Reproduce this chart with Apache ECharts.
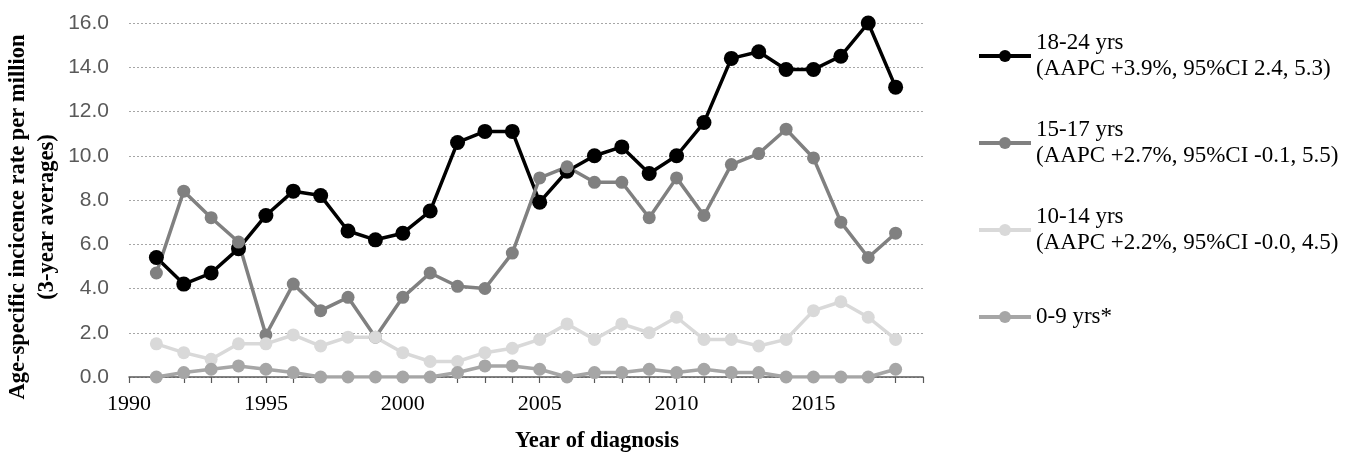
<!DOCTYPE html>
<html>
<head>
<meta charset="utf-8">
<script src="https://cdn.jsdelivr.net/npm/echarts@6/dist/echarts.min.js"></script>
<style>
  html, body { margin: 0; padding: 0; background: #fff; }
  #chart { width: 1353px; height: 455px; }
</style>
</head>
<body>
<div id="chart"></div>
<script>
// years of diagnosis (3-year averages)
var years = [1991, 1992, 1993, 1994, 1995, 1996, 1997, 1998, 1999, 2000,
             2001, 2002, 2003, 2004, 2005, 2006, 2007, 2008, 2009, 2010,
             2011, 2012, 2013, 2014, 2015, 2016, 2017, 2018];

var age18to24 = [5.4, 4.2, 4.7, 5.8, 7.3, 8.4, 8.2, 6.6, 6.2, 6.5,
                 7.5, 10.6, 11.1, 11.1, 7.9, 9.3, 10.0, 10.4, 9.2, 10.0,
                 11.5, 14.4, 14.7, 13.9, 13.9, 14.5, 16.0, 13.1];
var age15to17 = [4.7, 8.4, 7.2, 6.1, 1.9, 4.2, 3.0, 3.6, 1.8, 3.6,
                 4.7, 4.1, 4.0, 5.6, 9.0, 9.5, 8.8, 8.8, 7.2, 9.0,
                 7.3, 9.6, 10.1, 11.2, 9.9, 7.0, 5.4, 6.5];
var age10to14 = [1.5, 1.1, 0.8, 1.5, 1.5, 1.9, 1.4, 1.8, 1.8, 1.1,
                 0.7, 0.7, 1.1, 1.3, 1.7, 2.4, 1.7, 2.4, 2.0, 2.7,
                 1.7, 1.7, 1.4, 1.7, 3.0, 3.4, 2.7, 1.7];
var age0to9 = [0.0, 0.2, 0.35, 0.5, 0.35, 0.2, 0.0, 0.0, 0.0, 0.0,
               0.0, 0.2, 0.5, 0.5, 0.35, 0.0, 0.2, 0.2, 0.35, 0.2,
               0.35, 0.2, 0.2, 0.0, 0.0, 0.0, 0.0, 0.35];

var seriesNames = ['18-24 yrs', '15-17 yrs', '10-14 yrs', '0-9 yrs*'];
var seriesNotes = ['(AAPC +3.9%, 95%CI 2.4, 5.3)',
                   '(AAPC +2.7%, 95%CI -0.1, 5.5)',
                   '(AAPC +2.2%, 95%CI -0.0, 4.5)',
                   ''];
var seriesColors = ['#000000', '#808080', '#d9d9d9', '#a6a6a6'];
var yTicks = [0, 2, 4, 6, 8, 10, 12, 14, 16];

var serif = '"Liberation Serif", "Times New Roman", serif';
var sans = '"Liberation Sans", Arial, sans-serif';

function pairs(vals) {
    var out = [];
    for (var i = 0; i < years.length; i++) {
        out.push([years[i], vals[i]]);
    }
    return out;
}

var allData = [age18to24, age15to17, age10to14, age0to9];

var series = [];
for (var s = 0; s < seriesNames.length; s++) {
    series.push({
        name: seriesNames[s],
        type: 'line',
        data: pairs(allData[s]),
        symbol: 'circle',
        symbolSize: s === 0 ? 15 : 13,
        color: seriesColors[s],
        lineStyle: { width: 3.5, color: seriesColors[s] },
        itemStyle: { color: seriesColors[s] },
        animation: false
    });
}

// legend text: the icon sits on the first line, so pad the box above it
var legendData = [];
for (var k = 0; k < seriesNames.length; k++) {
    legendData.push({
        name: seriesNames[k],
        textStyle: { padding: seriesNotes[k] ? [26, 0, 0, 0] : [26, 0, 26, 0] }
    });
}

var chart = echarts.init(document.getElementById('chart'));

var option = {
    backgroundColor: '#ffffff',
    animation: false,
    grid: { left: 129, right: 430, top: 23, bottom: 78 },
    xAxis: {
        type: 'value',
        min: 1990,
        max: 2019,
        interval: 1,
        axisLine: { show: true, lineStyle: { color: '#595959', width: 1.5 } },
        axisTick: { show: true, length: 6, lineStyle: { color: '#595959', width: 1.2 } },
        axisLabel: {
            margin: 16,
            color: '#000',
            fontFamily: serif,
            fontSize: 22,
            formatter: function (v) { return v % 5 === 0 ? String(v) : ''; }
        },
        splitLine: { show: false }
    },
    yAxis: {
        type: 'value',
        min: yTicks[0],
        max: yTicks[yTicks.length - 1],
        interval: 2,
        axisLine: { show: false },
        axisTick: { show: false },
        axisLabel: {
            margin: 20,
            color: '#595959',
            fontFamily: sans,
            fontSize: 21,
            formatter: function (v) { return v.toFixed(1); }
        },
        splitLine: { lineStyle: { color: '#a6a6a6', width: 1, type: [2, 2] } }
    },
    legend: {
        orient: 'vertical',
        left: 972,
        top: 12,
        itemWidth: 52,
        itemHeight: 15,
        itemGap: 9,
        selectedMode: false,
        data: legendData,
        lineStyle: { width: 4 },
        formatter: function (name) {
            var i = seriesNames.indexOf(name);
            return seriesNotes[i] ? name + '\n' + seriesNotes[i] : name;
        },
        textStyle: { color: '#000', fontFamily: serif, fontSize: 23, lineHeight: 26 }
    },
    graphic: [
        {
            type: 'text',
            x: 33,
            y: 217,
            rotation: Math.PI / 2,
            style: {
                text: 'Age-specific incicence rate per million\n(3-year averages)',
                font: 'bold 22.5px ' + serif,
                lineHeight: 29,
                fill: '#000',
                align: 'center',
                verticalAlign: 'middle'
            }
        },
        {
            type: 'text',
            x: 597,
            y: 441,
            style: {
                text: 'Year of diagnosis',
                font: 'bold 22.5px ' + serif,
                fill: '#000',
                align: 'center',
                verticalAlign: 'middle'
            }
        }
    ],
    series: series
};

chart.setOption(option);
</script>
</body>
</html>
